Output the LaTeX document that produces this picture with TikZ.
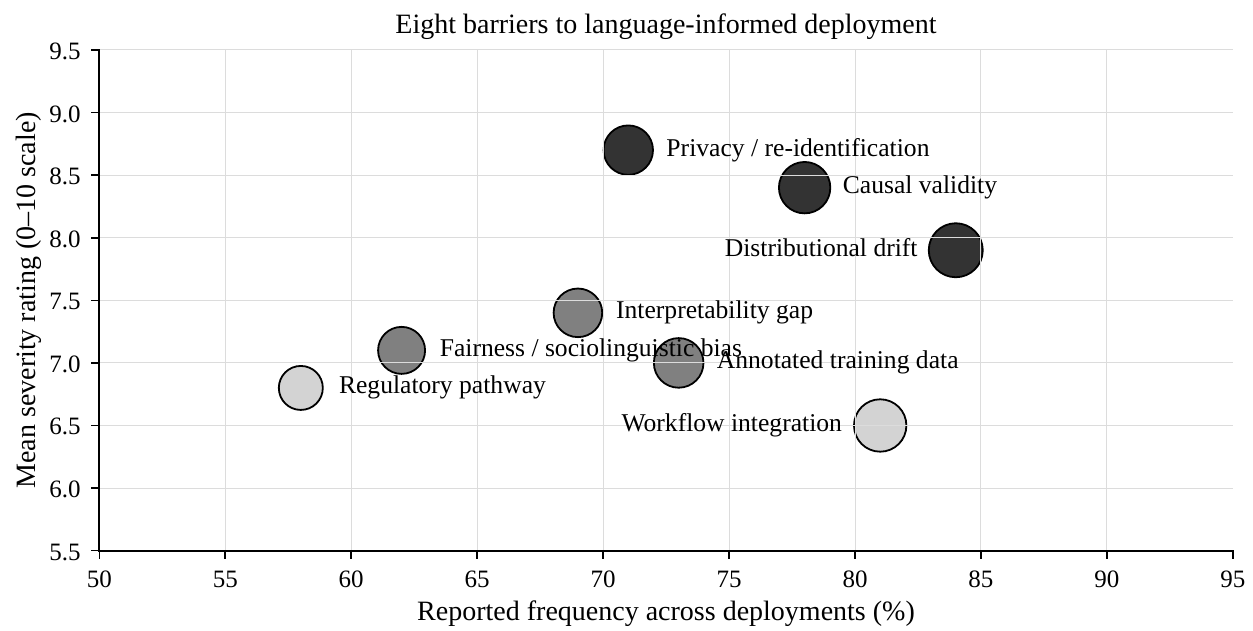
\documentclass[tikz,border=0pt]{standalone}
\usepackage{fontspec}
\setmainfont{Liberation Serif}
\definecolor{dark}{RGB}{51,51,51}
\definecolor{mid}{RGB}{128,128,128}
\definecolor{light}{RGB}{211,211,211}
\definecolor{gridc}{RGB}{220,220,220}
\begin{document}
\begin{tikzpicture}[x=1pt,y=1pt,
  gridline/.style={draw=gridc, line width=1pt},
  spine/.style={line width=2pt, line cap=rect},
  tickmark/.style={line width=1.6pt},
  bub/.style={circle, draw=black, line width=1.8pt, inner sep=0pt},
  lab/.style={font=\fontsize{25.6}{30}\selectfont, inner sep=0pt},
  ticklab/.style={font=\fontsize{25}{29}\selectfont, inner sep=0pt},
  axlab/.style={font=\fontsize{28}{32}\selectfont, inner sep=0pt}]
\useasboundingbox (0,0) rectangle (1253,631);
\fill[white] (0,0) rectangle (1253,631);
\begin{scope}[x=25.19pt,y=125.17pt,xshift=-1160.2pt,yshift=-608.1pt]
  % bubbles
  \node[bub, fill=dark,  minimum size=49.4pt] (privacy)  at (71,8.7) {};
  \node[bub, fill=dark,  minimum size=51.4pt] (causal)   at (78,8.4) {};
  \node[bub, fill=dark,  minimum size=54pt]   (drift)    at (84,7.9) {};
  \node[bub, fill=mid,   minimum size=48.6pt] (interp)   at (69,7.4) {};
  \node[bub, fill=mid,   minimum size=47pt]   (fair)     at (62,7.1) {};
  \node[bub, fill=mid,   minimum size=49.6pt] (annot)    at (73,7.0) {};
  \node[bub, fill=light, minimum size=44pt]   (reg)      at (58,6.8) {};
  \node[bub, fill=light, minimum size=52.4pt] (workflow) at (81,6.5) {};
  % grid
  \foreach \v in {6.0,6.5,...,9.5} \draw[gridline] (50,\v) -- (95,\v);
  \foreach \v in {55,60,...,90} \draw[gridline] (\v,5.5) -- (\v,9.5);
  % spines
  \coordinate (o) at (50,5.5);
  \coordinate (xe) at (95,5.5);
  \coordinate (ye) at (50,9.5);
  \draw[spine] (ye) -- (o) -- (xe);
  % ticks
  \foreach \v in {50,55,...,95} {
    \draw[tickmark] (\v,5.5) -- ++(0pt,-8.5pt);
    \node[ticklab, anchor=base] at ([yshift=-37pt]\v,5.5) {\v};
  }
  \foreach \v in {5.5,6.0,6.5,7.0,7.5,8.0,8.5,9.0,9.5} {
    \draw[tickmark] (50,\v) -- ++(-8.5pt,0pt);
    \node[ticklab, anchor=base east] at ([xshift=-18.5pt,yshift=-9.5pt]50,\v) {\v};
  }
\end{scope}
% labels
\node[lab, anchor=base west] (lprivacy) at ([xshift=38pt,yshift=-6pt]privacy.center) {Privacy / re-identification};
\node[lab, anchor=base west] (lcausal) at ([xshift=38pt,yshift=-6pt]causal.center) {Causal validity};
\node[lab, anchor=base east] (ldrift) at ([xshift=-38pt,yshift=-6pt]drift.center) {Distributional drift};
\node[lab, anchor=base west] (linterp) at ([xshift=38pt,yshift=-6pt]interp.center) {Interpretability gap};
\node[lab, anchor=base west] (lfair) at ([xshift=38pt,yshift=-6pt]fair.center) {Fairness / sociolinguistic bias};
\node[lab, anchor=base west] (lannot) at ([xshift=38pt,yshift=-6pt]annot.center) {Annotated training data};
\node[lab, anchor=base west] (lreg) at ([xshift=38pt,yshift=-6pt]reg.center) {Regulatory pathway};
\node[lab, anchor=base east] (lworkflow) at ([xshift=-38pt,yshift=-6pt]workflow.center) {Workflow integration};
% titles
\node[axlab, anchor=base] (title) at (666,597.5) {Eight barriers to language-informed deployment};
\node[axlab, anchor=base] (xlabel) at (666,10) {Reported frequency across deployments (\%)};
\node[axlab, anchor=base, rotate=90] (ylabel) at (35,330.7) {Mean severity rating (0–10 scale)};
\end{tikzpicture}
\end{document}
